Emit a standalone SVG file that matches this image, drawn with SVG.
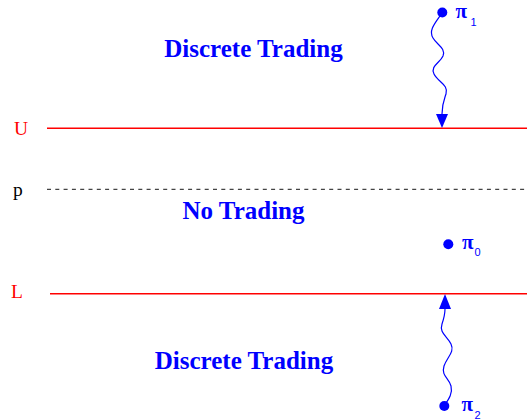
<svg xmlns="http://www.w3.org/2000/svg" width="527" height="419" viewBox="0 0 527 419">
<style>
.title{font-family:"Liberation Serif","Times New Roman",serif;font-weight:bold;font-size:25px;fill:#0000ff}
.axis{font-family:"Liberation Serif","Times New Roman",serif;font-size:19.5px}
.pi{font-family:"Liberation Serif","DejaVu Serif",serif;font-weight:bold;font-size:21px;fill:#0000ff}
.sub{font-family:"Liberation Sans",Arial,sans-serif;font-size:11px;fill:#0000ff}
.red{stroke:#ff0000;stroke-width:1.4;fill:none}
.wave{stroke:#0000ff;stroke-width:1.2;fill:none}
.head{fill:#0000ff}
</style>
<rect width="527" height="419" fill="#ffffff"/>
<g id="levels">
<line class="red" x1="47" y1="128.3" x2="527" y2="128.3"/>
<line x1="47" y1="189.3" x2="527" y2="189.3" stroke="#444444" stroke-width="1.2" stroke-dasharray="4 4.3"/>
<line class="red" x1="50" y1="293.7" x2="527" y2="293.7"/>
</g>
<g id="labels">
<text class="axis" x="14" y="134.5" fill="#ff0000">U</text>
<text class="axis" x="13" y="196" fill="#000000">p</text>
<text class="axis" x="11" y="297.5" fill="#ff0000">L</text>
</g>
<g id="regions">
<text class="title" x="253.5" y="57" text-anchor="middle">Discrete Trading</text>
<text class="title" x="243.5" y="219" text-anchor="middle">No Trading</text>
<text class="title" x="244" y="369" text-anchor="middle">Discrete Trading</text>
</g>
<g id="pi1">
<circle cx="442.3" cy="12.5" r="5" fill="#0000ff"/>
<text class="pi" x="455.5" y="18">π</text>
<text class="sub" x="470.5" y="25.5">1</text>
</g>
<g id="pi0">
<circle cx="448.3" cy="244.3" r="5" fill="#0000ff"/>
<text class="pi" x="462" y="249">π</text>
<text class="sub" x="474.5" y="256">0</text>
</g>
<g id="pi2">
<circle cx="444.3" cy="406" r="5" fill="#0000ff"/>
<text class="pi" x="461.5" y="411">π</text>
<text class="sub" x="474.5" y="418.5">2</text>
</g>
<g id="connectors">
<path class="wave" d="M442,13 C436,22 428,30 433,38 C437,45 446,48 443,56 C440,63 430,66 434,74 C438,82 449,85 446,94 C444,100 442,104 442,114"/>
<polygon class="head" points="436,114 448,114 442,128"/>
<path class="wave" d="M444,406 C448,400 453,394 451,386 C449,378 441,376 444,366 C447,357 455,352 451,344 C447,336 439,333 442,324 C444,318 445,314 445,309"/>
<polygon class="head" points="439,309 451,309 445,294"/>
</g>
</svg>
